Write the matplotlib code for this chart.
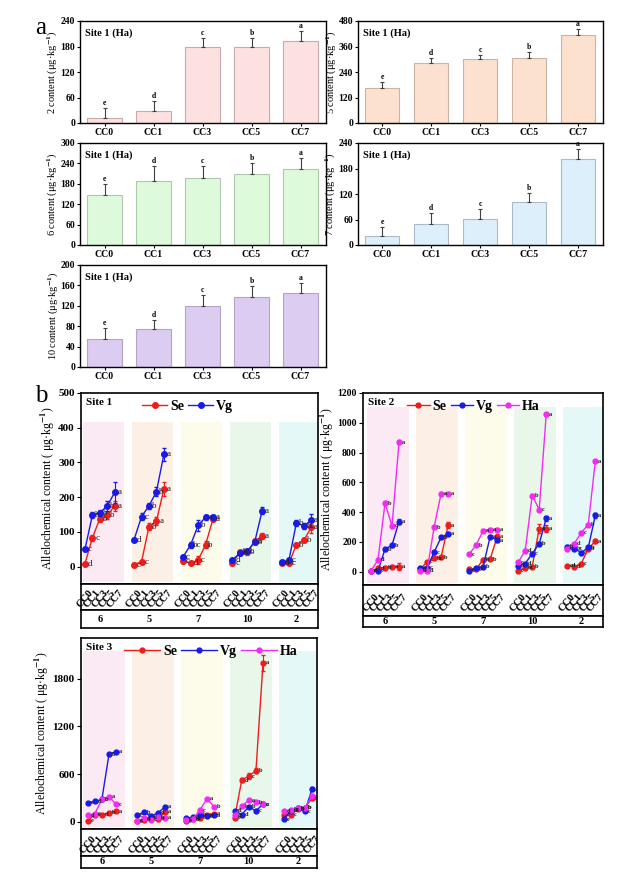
import numpy as np
import matplotlib
matplotlib.use('Agg')
import matplotlib.pyplot as plt
from matplotlib.patches import Rectangle

plt.rcParams['font.family'] = ['Liberation Serif', 'DejaVu Serif']
plt.rcParams['font.weight'] = 'bold'
plt.rcParams['mathtext.fontset'] = 'stix'
plt.rcParams['axes.linewidth'] = 1.0

treatments = ['CC0', 'CC1', 'CC3', 'CC5', 'CC7']
compounds = ['6', '5', '7', '10', '2']
bar_letters = ['e', 'd', 'c', 'b', 'a']

# panel a: site 1 (Ha), one bar chart per compound
ha2_mean = [12, 29, 178, 179, 194]
ha2_err = [23, 23, 22, 22, 22]
ha5_mean = [165, 282, 300, 306, 415]
ha5_err = [27, 23, 22, 27, 27]
ha6_mean = [147, 189, 197, 210, 225]
ha6_err = [32, 43, 35, 32, 32]
ha7_mean = [22, 50, 61, 102, 202]
ha7_err = [21, 26, 24, 20, 23]
ha10_mean = [55, 74, 120, 138, 145]
ha10_err = [21, 19, 21, 20, 19]

# panel b: groups in order 6, 5, 7, 10, 2 ; points CC0..CC7 inside each group
s1_se = [8, 83, 138, 148, 175,
         6, 14, 115, 131, 223,
         15, 11, 19, 63, 138,
         10, 42, 41, 73, 88,
         10, 10, 63, 76, 113]
s1_se_err = [4, 8, 10, 10, 15,
             4, 5, 10, 12, 20,
             4, 4, 12, 10, 8,
             4, 6, 8, 8, 8,
             3, 3, 6, 6, 15]
s1_se_let = ['d', 'c', 'b', 'b', 'a', 'c', 'c', 'b', 'a', 'a', 'c', 'd', 'c', 'b', 'a',
             'c', 'b', 'b', 'a', 'a', 'd', 'c', 'b', 'b', 'a']
s1_vg = [50, 148, 155, 175, 214,
         78, 144, 175, 216, 323,
         29, 63, 119, 142, 142,
         19, 39, 44, 71, 161,
         12, 19, 126, 117, 133]
s1_vg_err = [5, 8, 8, 15, 30,
             5, 10, 8, 12, 20,
             5, 8, 15, 8, 8,
             4, 5, 6, 6, 10,
             3, 4, 8, 8, 20]
s1_vg_let = ['c', 'b', 'b', 'b', 'a', 'd', 'c', 'b', 'b', 'a', 'c', 'bc', 'b', 'a', 'a',
             'd', 'b', 'c', 'b', 'a', 'c', 'c', 'b', 'b', 'a']

s2_se = [5, 23, 27, 34, 34,
         16, 65, 90, 95, 312,
         16, 16, 81, 84, 235,
         5, 27, 34, 289, 289,
         40, 34, 54, 155, 204]
s2_se_err = [5, 5, 8, 10, 25, 5, 8, 10, 10, 20, 5, 5, 8, 8, 15,
             4, 5, 8, 30, 25, 6, 5, 6, 10, 12]
s2_se_let = ['c', 'd', 'b', 'a', 'a', 'd', 'c', 'bc', 'b', 'a', 'c', 'c', 'b', 'b', 'a',
             'c', 'bc', 'b', 'a', 'a', 'cd', 'd', 'c', 'b', 'a']
s2_vg = [5, 5, 151, 178, 336,
         27, 27, 129, 230, 253,
         5, 23, 34, 235, 212,
         40, 54, 121, 188, 357,
         168, 155, 128, 162, 377]
s2_vg_err = [4, 4, 10, 10, 15, 5, 5, 10, 10, 10, 4, 5, 6, 10, 10,
             5, 6, 8, 10, 15, 8, 8, 8, 8, 15]
s2_vg_let = ['c', 'c', 'b', 'b', 'a', 'c', 'c', 'c', 'b', 'a', 'c', 'bc', 'b', 'a', 'a',
             'd', 'd', 'c', 'b', 'a', 'b', 'bc', 'c', 'b', 'a']
s2_ha = [5, 79, 460, 307, 869,
         5, 5, 298, 524, 524,
         117, 178, 275, 282, 282,
         62, 141, 511, 417, 1057,
         155, 188, 262, 316, 740]
s2_ha_err = [4, 6, 12, 10, 15, 4, 4, 10, 10, 10, 6, 8, 8, 8, 8,
             6, 8, 10, 10, 10, 6, 6, 8, 8, 12]
s2_ha_let = ['d', 'd', 'b', 'c', 'a', 'd', 'd', 'b', 'a', 'a', 'c', 'b', 'a', 'a', 'a',
             'c', 'd', 'b', 'c', 'a', 'c', 'd', 'c', 'b', 'a']

s3_se = [13, 92, 92, 113, 134,
         10, 25, 60, 40, 125,
         5, 40, 50, 80, 100,
         50, 525, 575, 642, 2000,
         92, 92, 160, 180, 298]
s3_se_err = [8, 10, 10, 12, 15, 6, 8, 8, 8, 12, 5, 8, 8, 10, 10,
             10, 30, 35, 30, 100, 10, 10, 12, 12, 20]
s3_se_let = ['e', 'c', 'd', 'b', 'a', 'e', 'd', 'c', 'b', 'a', 'e', 'dc', 'c', 'b', 'a',
             'e', 'd', 'c', 'b', 'a', 'c', 'c', 'b', 'b', 'a']
s3_vg = [239, 256, 281, 848, 881,
         80, 122, 71, 113, 189,
         42, 55, 92, 71, 84,
         138, 92, 189, 138, 222,
         34, 138, 168, 130, 411]
s3_vg_err = [12, 12, 12, 20, 15, 8, 8, 8, 8, 10, 6, 6, 8, 8, 8,
             10, 8, 10, 10, 12, 6, 10, 10, 10, 25]
s3_vg_let = ['c', 'd', 'c', 'b', 'a', 'c', 'b', 'c', 'd', 'a', 'c', 'd', 'b', 'c', 'a',
             'd', 'd', 'b', 'c', 'a', 'e', 'dc', 'b', 'c', 'a']
s3_ha = [80, 101, 281, 315, 222,
         13, 42, 29, 59, 50,
         21, 34, 147, 290, 189,
         80, 197, 273, 243, 222,
         130, 155, 168, 180, 323]
s3_ha_err = [8, 8, 10, 12, 10, 5, 6, 6, 6, 6, 5, 5, 8, 12, 10,
             8, 10, 12, 10, 10, 8, 8, 8, 8, 15]
s3_ha_let = ['d', 'c', 'b', 'a', 'c', 'c', 'd', 'c', 'b', 'a', 'e', 'd', 'c', 'a', 'b',
             'd', 'bc', 'a', 'b', 'c', 'd', 'bc', 'b', 'b', 'a']

SE_C = '#EE1C1C'
VG_C = '#1A1AE6'
HA_C = '#F02CF0'
band_colors = ['#FBEAF4', '#FCEFE5', '#FDFBEA', '#E8F7E9', '#E5F8F8']

W, H = 630, 883
fig = plt.figure(figsize=(W / 100, H / 100), dpi=100)


def px(x0, y0, x1, y1):
    return [x0 / W, 1 - y1 / H, (x1 - x0) / W, (y1 - y0) / H]


def bar_panel(box, means, errs, face, edge, ymax, step, name):
    ax = fig.add_axes(px(*box))
    x = np.arange(len(treatments))
    ax.bar(x, means, width=0.7, color=face, edgecolor=edge, linewidth=0.8, zorder=2)
    ax.errorbar(x, means, yerr=[np.zeros(len(x)), errs], fmt='none', ecolor='#404040',
                elinewidth=0.8, capsize=1.2, capthick=0.8, zorder=3)
    for xi, m, e, t in zip(x, means, errs, bar_letters):
        ax.text(xi, m + e + ymax * 0.01, t, ha='center', va='bottom', fontsize=5.5)
    ax.set_xlim(-0.5, 4.52)
    ax.set_ylim(0, ymax)
    ax.set_yticks(np.arange(0, ymax + 1, step))
    ax.set_xticks(x)
    ax.set_xticklabels(treatments)
    ax.tick_params(axis='both', direction='out', length=2.5, width=0.8, labelsize=7, pad=1)
    ax.set_ylabel(name + r' content (μg·kg$^{-1}$)', fontsize=7.5, labelpad=0)
    ax.text(0.02, 0.93, 'Site 1 (Ha)', transform=ax.transAxes, fontsize=7.5, va='top')
    for s in ax.spines.values():
        s.set_linewidth(1.0)


bar_panel((80, 21, 326, 123), ha2_mean, ha2_err, '#FDE1E1', '#C9AAAA', 240, 60, '2')
bar_panel((358, 21, 603, 123), ha5_mean, ha5_err, '#FCE1CE', '#CCB4A4', 480, 120, '5')
bar_panel((80, 143, 326, 245), ha6_mean, ha6_err, '#DDFADB', '#AFC8AE', 300, 60, '6')
bar_panel((358, 143, 603, 245), ha7_mean, ha7_err, '#DDEFFB', '#AABACA', 240, 60, '7')
bar_panel((80, 265, 326, 367), ha10_mean, ha10_err, '#DCCCF2', '#B2A6C4', 200, 40, '10')


def site_panel(xl, xr, ytop, ymid, ytick_bot, ybot, series, ylim, yticks, band_top,
               stride, xlim, band, title, leg_anchor, let_size, let_weight, ms, handlelen,
               tick_size):
    ax = fig.add_axes(px(xl, ytop, xr, ymid))
    for g in range(len(compounds)):
        x0 = g * stride
        ax.add_patch(Rectangle((x0 + band[0], ylim[0] + (ylim[1] - ylim[0]) * 0.01),
                               band[1] - band[0], band_top - ylim[0],
                               facecolor=band_colors[g], edgecolor='none', zorder=0))
    for label, vals, errs, lets, col in series:
        for g in range(len(compounds)):
            sl = slice(g * 5, g * 5 + 5)
            xs = g * stride + np.arange(5)
            ax.errorbar(xs, vals[sl], yerr=errs[sl], fmt='none', ecolor=col,
                        elinewidth=0.8, capsize=1.2, zorder=3)
            ax.plot(xs, vals[sl], color=col, lw=1.0, marker='o', ms=ms, zorder=3,
                    label=label if g == 0 else None)
            for xi, v, t in zip(xs, vals[sl], lets[sl]):
                ax.annotate(t, (xi, v), xytext=(2.0, 0), textcoords='offset points',
                            fontsize=let_size, fontweight=let_weight, color='#202020',
                            ha='left', va='center', zorder=4)
    ax.set_xlim(*xlim)
    ax.set_ylim(*ylim)
    ax.set_yticks(yticks)
    ax.set_xticks([])
    ax.tick_params(axis='y', direction='out', length=3, width=0.8, labelsize=tick_size, pad=1.5)
    ax.set_ylabel(r'Allelochemical content ( μg·kg$^{-1}$)', fontsize=8.5, labelpad=1)
    ax.text(0.02, 0.975, title, transform=ax.transAxes, fontsize=8, va='top')
    ax.legend(loc='upper center', bbox_to_anchor=leg_anchor, ncol=len(series), frameon=False,
              fontsize=10, handlelength=handlelen, handletextpad=0.2, columnspacing=0.3,
              borderaxespad=0)
    for s in ax.spines.values():
        s.set_linewidth(1.2)

    axt = fig.add_axes(px(xl, ymid, xr, ytick_bot))
    axt.set_xlim(*xlim)
    axt.set_ylim(0, 1)
    axt.set_xticks([])
    axt.set_yticks([])
    for g in range(len(compounds)):
        for i, t in enumerate(treatments):
            axt.text(g * stride + i, 0.42, t, rotation=50, ha='center', va='center',
                     rotation_mode='anchor', fontsize=7.5)
    for s in axt.spines.values():
        s.set_linewidth(1.2)

    axn = fig.add_axes(px(xl, ytick_bot, xr, ybot))
    axn.set_xlim(*xlim)
    axn.set_ylim(0, 1)
    axn.set_xticks([])
    axn.set_yticks([])
    for g, c in enumerate(compounds):
        axn.text(g * stride + 2, 0.5, c, ha='center', va='center', fontsize=7.5)
    for s in axn.spines.values():
        s.set_linewidth(1.2)


site_panel(81, 318, 393, 584, 610, 628,
           [('Se', s1_se, s1_se_err, s1_se_let, SE_C),
            ('Vg', s1_vg, s1_vg_err, s1_vg_let, VG_C)],
           (-50, 500), np.arange(0, 501, 100), 410, 6.6, (-0.53, 31.3), (-0.3, 5.2),
           'Site 1', (0.45, 0.995), 6.5, 'normal', 4, 1.8, 8)

site_panel(363, 603, 393, 585, 616, 627,
           [('Se', s2_se, s2_se_err, s2_se_let, SE_C),
            ('Vg', s2_vg, s2_vg_err, s2_vg_let, VG_C),
            ('Ha', s2_ha, s2_ha_err, s2_ha_let, HA_C)],
           (-90, 1200), np.arange(0, 1201, 200), 1090, 7.0, (-1.14, 33.1), (-0.6, 5.4),
           'Site 2', (0.46, 0.995), 4.5, 'bold', 3.5, 1.6, 7)

site_panel(81, 317, 638, 829, 856, 868,
           [('Se', s3_se, s3_se_err, s3_se_let, SE_C),
            ('Vg', s3_vg, s3_vg_err, s3_vg_let, VG_C),
            ('Ha', s3_ha, s3_ha_err, s3_ha_let, HA_C)],
           (-90, 2310), np.arange(0, 1801, 600), 2120, 6.9, (-0.94, 32.3), (-0.66, 5.25),
           'Site 3', (0.55, 0.995), 4.5, 'bold', 3.5, 2.6, 8)

fig.text(35 / W, 1 - 34 / H, 'a', fontsize=18, fontweight='normal')
fig.text(35 / W, 1 - 402 / H, 'b', fontsize=18, fontweight='normal')

fig.savefig('out.png', dpi=100, facecolor='white')
